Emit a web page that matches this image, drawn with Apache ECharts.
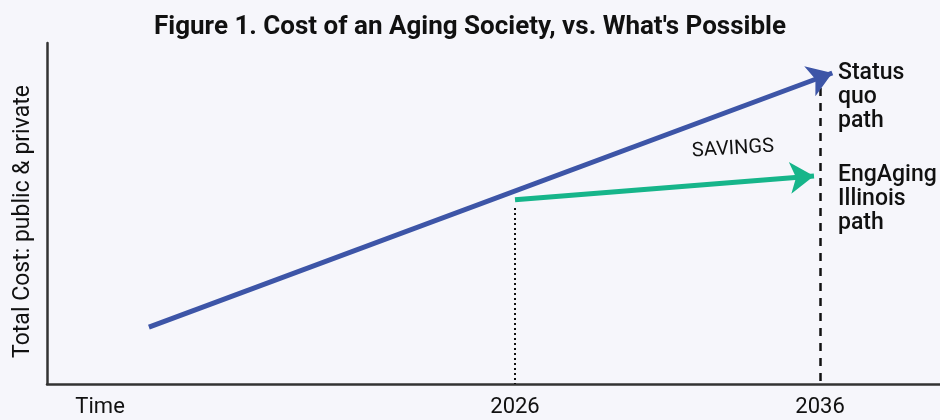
<!DOCTYPE html>
<html>
<head>
<meta charset="utf-8">
<title>Cost of an Aging Society</title>
<script src="https://cdn.jsdelivr.net/npm/echarts@6/dist/echarts.min.js"></script>
<style>
  html, body { margin: 0; padding: 0; background: #f6f6fb; }
  #chart { width: 940px; height: 420px; }
</style>
</head>
<body>
<div id="chart"></div>
<script>
// data (years on x, relative cost index on y)
var statusQuoYears = [2014, 2036.4];
var statusQuoCost = [16.7, 91.2];
var engagingYears = [2026, 2035.8];
var engagingCost = [54, 61];
var markerYears = [2026, 2036];
var markerTops = [51.6, 86.8];
var tickYears = [2012.4, 2026, 2036];
var tickLabels = ['Time', '2026', '2036'];

var blue = '#3d55a7';
var green = '#16b58a';

function seg(xs, ys) {
    return [{ coords: [[xs[0], ys[0]], [xs[1], ys[1]]] }];
}

var chart = echarts.init(document.getElementById('chart'));
var option = {
    backgroundColor: '#f6f6fb',
    title: {
        text: "Figure 1. Cost of an Aging Society, vs. What's Possible",
        left: 'center',
        top: 9,
        textStyle: { fontFamily: 'Roboto', fontSize: 26, fontWeight: 'bold', color: '#111' }
    },
    grid: { left: 47, right: 0, top: 43, bottom: 36 },
    xAxis: {
        type: 'value',
        min: 2010.66,
        max: 2039.93,
        splitLine: { show: false },
        axisTick: { show: false },
        axisLine: { lineStyle: { color: '#333', width: 2.5 } },
        axisLabel: {
            customValues: tickYears,
            margin: 12,
            fontFamily: 'Roboto',
            fontSize: 22,
            color: '#111',
            formatter: function (v) {
                var i = tickYears.indexOf(v);
                return i >= 0 ? tickLabels[i] : '';
            }
        }
    },
    yAxis: {
        type: 'value',
        min: 0,
        max: 100,
        name: 'Total Cost: public & private',
        nameLocation: 'middle',
        nameGap: 12,
        nameTextStyle: { fontFamily: 'Roboto', fontSize: 23, color: '#111', padding: [0, 16, 0, 0] },
        splitLine: { show: false },
        axisTick: { show: false },
        axisLabel: { show: false },
        axisLine: { show: true, lineStyle: { color: '#333', width: 2.5 } }
    },
    series: [
        {
            type: 'lines',
            coordinateSystem: 'cartesian2d',
            z: 3,
            data: [{ coords: [[markerYears[0], markerTops[0]], [markerYears[0], 0]] }],
            symbol: 'none',
            lineStyle: { color: '#111', width: 2, type: [2, 3], opacity: 1 }
        },
        {
            type: 'lines',
            coordinateSystem: 'cartesian2d',
            z: 3,
            data: [{ coords: [[markerYears[1], markerTops[1]], [markerYears[1], 0]] }],
            symbol: 'none',
            lineStyle: { color: '#111', width: 2.5, type: [8, 7], opacity: 1 }
        },
        {
            type: 'lines',
            coordinateSystem: 'cartesian2d',
            z: 4,
            data: seg(statusQuoYears, statusQuoCost),
            symbol: ['none', 'arrow'],
            symbolSize: 24,
            lineStyle: { color: blue, width: 5, opacity: 1 }
        },
        {
            type: 'lines',
            coordinateSystem: 'cartesian2d',
            z: 4,
            data: seg(engagingYears, engagingCost),
            symbol: ['none', 'arrow'],
            symbolSize: 24,
            lineStyle: { color: green, width: 5, opacity: 1 }
        }
    ],
    graphic: [
        {
            type: 'text', left: 838, top: 61,
            style: { text: 'Status\nquo\npath', fontFamily: 'Roboto', fontSize: 23, fontWeight: 500, lineHeight: 24, fill: '#111' }
        },
        {
            type: 'text', left: 838, top: 163,
            style: { text: 'EngAging\nIllinois\npath', fontFamily: 'Roboto', fontSize: 23, fontWeight: 500, lineHeight: 24, fill: '#111' }
        },
        {
            type: 'text', x: 733, y: 149, rotation: 0.06,
            style: { text: 'SAVINGS', fontFamily: 'Roboto', fontSize: 20, fill: '#111', align: 'center', verticalAlign: 'middle' }
        }
    ]
};
chart.setOption(option);
</script>
</body>
</html>
